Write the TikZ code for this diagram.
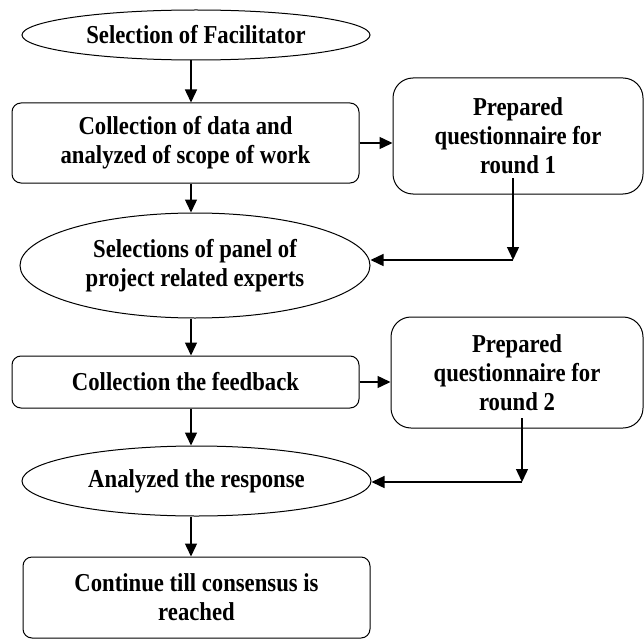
\documentclass[tikz,border=0pt]{standalone}
\usepackage{fontspec}
\setmainfont[FakeStretch=0.88]{Liberation Serif}
\usetikzlibrary{shapes.geometric,arrows.meta}

\begin{document}
\begin{tikzpicture}[x=1pt, y=-1pt,
        txt/.style={font=\bfseries\fontsize{25.8}{29}\selectfont, align=center, inner sep=0pt},
        oval/.style={txt, draw, ellipse, line width=1pt},
        box/.style={txt, draw, rectangle, rounded corners=9pt, line width=1pt},
        qbox/.style={box, rounded corners=20pt},
        arr/.style={-{Triangle[length=13pt, width=12pt]}, line width=1.4pt}]
        \useasboundingbox (0,0) rectangle (644,639);

        \node[oval, minimum width=348pt, minimum height=50pt] (fac) at (196,35) {Selection of Facilitator};
        \node[box, minimum width=347pt, minimum height=80pt] (coll) at (185.5,143) {Collection of data and\\analyzed of scope of work};
        \node[qbox, minimum width=250pt, minimum height=116pt] (r1) at (518,136) {Prepared\\questionnaire for\\round 1};
        \node[oval, minimum width=350pt, minimum height=105pt] (panel) at (195,265.5) {Selections of panel of\\project related experts};

        \node[box, minimum width=347pt, minimum height=52pt] (feed) at (185.5,382) {Collection the feedback};
        \node[qbox, minimum width=252pt, minimum height=111pt] (r2) at (517,372.5) {Prepared\\questionnaire for\\round 2};
        \node[oval, minimum width=349pt, minimum height=70pt] (resp) at (196.5,481) {Analyzed the response};
        \node[box, minimum width=347pt, minimum height=81pt] (cons) at (196.5,597.5) {Continue till consensus is\\reached};

        % main flow
        \coordinate (mx) at (191,0);
        \draw[arr] (fac.south -| mx) -- (coll.north -| mx);
        \draw[arr] (coll.south -| mx) -- (panel.north -| mx);
        \draw[arr] (panel.south -| mx) -- (feed.north -| mx);
        \draw[arr] (feed.south -| mx) -- (resp.north -| mx);
        \draw[arr] (resp.south -| mx) -- (cons.north -| mx);

        % questionnaires
        \draw[arr] (coll.east) -- (coll.east -| r1.west);
        \draw[arr] (feed.east) -- (feed.east -| r2.west);

        \coordinate (k1s) at (513,178);
        \coordinate (k1) at (513,260);
        \draw[arr] (k1s) -- (k1);
        \draw[arr] (k1) -- (k1 -| panel.east);

        \coordinate (k2s) at (522,418);
        \coordinate (k2) at (522,482);
        \draw[arr] (k2s) -- (k2);
        \draw[arr] (k2) -- (k2 -| resp.east);

    \end{tikzpicture}
\end{document}
